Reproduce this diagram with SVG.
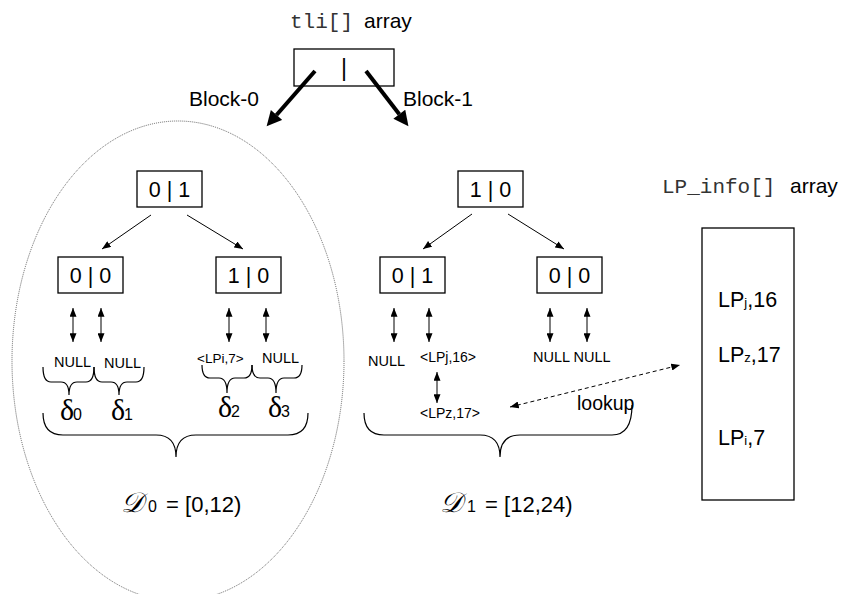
<svg xmlns="http://www.w3.org/2000/svg" width="842" height="594" viewBox="0 0 842 594">
<style>
.s{font-family:"Liberation Sans",Arial,sans-serif;fill:#000}
.m{font-family:"Liberation Mono","Courier New",monospace;fill:#333}
.d{font-family:"Liberation Serif","Times New Roman",serif;fill:#000}
.box{fill:#fff;stroke:#000;stroke-width:1.3}
.nt{font-size:21.5px;text-anchor:middle}
.sm{font-size:14.5px}
.ln{stroke:#000;stroke-width:1;fill:none}
.br{stroke:#000;stroke-width:1.2;fill:none}
</style>
<defs>
<marker id="ah" viewBox="0 0 10 8" refX="10" refY="4" markerWidth="9" markerHeight="7" markerUnits="userSpaceOnUse" orient="auto-start-reverse"><path d="M0,0 L10,4 L0,8 z" fill="#000"/></marker>
<marker id="thick" viewBox="0 0 10 10" refX="0" refY="5" markerWidth="16" markerHeight="15" markerUnits="userSpaceOnUse" orient="auto"><path d="M0,0 L10,5 L0,10 z" fill="#000"/></marker>
</defs>
<rect width="842" height="594" fill="#fff"/>

<ellipse id="block0-region" cx="178" cy="361" rx="166" ry="240" fill="none" stroke="#555" stroke-width="0.9" stroke-dasharray="1 1"/>

<g id="tli">
<text x="290" y="28" style="font-size:21px"><tspan class="m">tli[]</tspan><tspan class="s" x="364">array</tspan></text>
<rect class="box" x="294" y="49" width="100" height="37"/>
<text class="s" x="344" y="76" style="font-size:23px;text-anchor:middle">|</text>
</g>

<g id="labels">
<text class="s" x="189" y="106" style="font-size:21px">Block-0</text>
<text class="s" x="403" y="106" style="font-size:21px">Block-1</text>
<text class="s" x="577" y="410" style="font-size:19.5px">lookup</text>
</g>

<g id="n01L"><rect class="box" x="137" y="171" width="65" height="36"/><text class="s nt" x="169.5" y="197">0 | 1</text></g>
<g id="n00L"><rect class="box" x="58" y="257" width="65" height="36"/><text class="s nt" x="90.5" y="283">0 | 0</text></g>
<g id="n10L"><rect class="box" x="216" y="257" width="65" height="36"/><text class="s nt" x="248.5" y="283">1 | 0</text></g>
<g id="n10R"><rect class="box" x="458" y="171" width="65" height="36"/><text class="s nt" x="490.5" y="197">1 | 0</text></g>
<g id="n01R"><rect class="box" x="380" y="257" width="65" height="36"/><text class="s nt" x="412.5" y="283">0 | 1</text></g>
<g id="n00R"><rect class="box" x="537" y="257" width="65" height="36"/><text class="s nt" x="569.5" y="283">0 | 0</text></g>

<g id="leaves">
<text class="s sm" x="54" y="367">NULL</text>
<text class="s sm" x="104" y="368">NULL</text>
<text class="s" x="197" y="363" style="font-size:13.5px">&lt;LPi,7&gt;</text>
<text class="s sm" x="262" y="363">NULL</text>
<text class="s sm" x="368" y="366">NULL</text>
<text class="s" x="420" y="362" style="font-size:14px">&lt;LPj,16&gt;</text>
<text class="s" x="420" y="418" style="font-size:14px">&lt;LPz,17&gt;</text>
<text class="s sm" x="533" y="362">NULL NULL</text>
</g>

<g id="deltas">
<text x="60" y="420"><tspan class="d" style="font-size:30px">δ</tspan><tspan class="s" x="73" style="font-size:16px">0</tspan></text>
<text x="111" y="420"><tspan class="d" style="font-size:30px">δ</tspan><tspan class="s" x="124" style="font-size:16px">1</tspan></text>
<text x="218" y="417"><tspan class="d" style="font-size:30px">δ</tspan><tspan class="s" x="231" style="font-size:16px">2</tspan></text>
<text x="268" y="417"><tspan class="d" style="font-size:30px">δ</tspan><tspan class="s" x="281" style="font-size:16px">3</tspan></text>
</g>

<g id="domains">
<text x="121" y="512"><tspan class="d" style="font-size:28px;font-style:italic">𝒟</tspan><tspan class="s" x="148" style="font-size:16px">0</tspan><tspan class="s" x="160" style="font-size:22px"> = [0,12)</tspan></text>
<text x="440" y="512"><tspan class="d" style="font-size:28px;font-style:italic">𝒟</tspan><tspan class="s" x="467" style="font-size:16px">1</tspan><tspan class="s" x="479" style="font-size:22px"> = [12,24)</tspan></text>
</g>

<g id="braces">
<path class="br" d="M43,367 Q43,382 51,382 L61,382 Q69,382 69,395 Q69,382 77,382 L86,382 Q94,382 94,367"/>
<path class="br" d="M94,367 Q94,382 102,382 L111,382 Q119,382 119,395 Q119,382 127,382 L136,382 Q144,382 144,367"/>
<path class="br" d="M202,365 Q202,378 210,378 L219,378 Q227,378 227,393 Q227,378 235,378 L244,378 Q252,378 252,365"/>
<path class="br" d="M252,365 Q252,378 260,378 L268,378 Q276,378 276,393 Q276,378 284,378 L294,378 Q302,378 302,365"/>
<path class="br" d="M43,413 Q43,435 63,435 L156,435 Q176,435 176,457 Q176,435 196,435 L288,435 Q308,435 308,413"/>
<path class="br" d="M364,413 Q364,435 384,435 L480,435 Q500,435 500,457 Q500,435 520,435 L612,435 Q632,435 632,405"/>
</g>

<g id="lpinfo">
<text x="662" y="193" style="font-size:21px"><tspan class="m">LP_info[]</tspan><tspan class="s" x="790">array</tspan></text>
<rect class="box" x="702" y="228" width="92" height="272"/>
<text class="s" x="718" y="307" style="font-size:21.5px">LP<tspan style="font-size:13px">j</tspan>,16</text>
<text class="s" x="718" y="362" style="font-size:21.5px">LP<tspan style="font-size:13px">z</tspan>,17</text>
<text class="s" x="718" y="445" style="font-size:21.5px">LP<tspan style="font-size:13px">i</tspan>,7</text>
</g>

<g id="connectors">
<line x1="315" y1="71" x2="276.5" y2="115" stroke="#000" stroke-width="4" marker-end="url(#thick)"/>
<line x1="366" y1="71" x2="399.3" y2="114.3" stroke="#000" stroke-width="4" marker-end="url(#thick)"/>
<line class="ln" x1="151" y1="215" x2="102" y2="249" marker-end="url(#ah)"/>
<line class="ln" x1="187" y1="215" x2="243" y2="249" marker-end="url(#ah)"/>
<line class="ln" x1="472" y1="214" x2="423" y2="249" marker-end="url(#ah)"/>
<line class="ln" x1="508" y1="214" x2="564" y2="249" marker-end="url(#ah)"/>
<line class="ln" x1="73" y1="308" x2="73" y2="342" marker-start="url(#ah)" marker-end="url(#ah)"/>
<line class="ln" x1="101" y1="308" x2="101" y2="342" marker-start="url(#ah)" marker-end="url(#ah)"/>
<line class="ln" x1="229" y1="308" x2="229" y2="342" marker-start="url(#ah)" marker-end="url(#ah)"/>
<line class="ln" x1="266" y1="308" x2="266" y2="342" marker-start="url(#ah)" marker-end="url(#ah)"/>
<line class="ln" x1="394" y1="308" x2="394" y2="342" marker-start="url(#ah)" marker-end="url(#ah)"/>
<line class="ln" x1="429" y1="308" x2="429" y2="342" marker-start="url(#ah)" marker-end="url(#ah)"/>
<line class="ln" x1="550" y1="308" x2="550" y2="342" marker-start="url(#ah)" marker-end="url(#ah)"/>
<line class="ln" x1="587" y1="308" x2="587" y2="342" marker-start="url(#ah)" marker-end="url(#ah)"/>
<line class="ln" x1="437" y1="372" x2="437" y2="403" marker-start="url(#ah)" marker-end="url(#ah)"/>
<line class="ln" x1="510" y1="407" x2="680" y2="365" stroke-dasharray="4 3" marker-start="url(#ah)" marker-end="url(#ah)"/>
</g>
</svg>
